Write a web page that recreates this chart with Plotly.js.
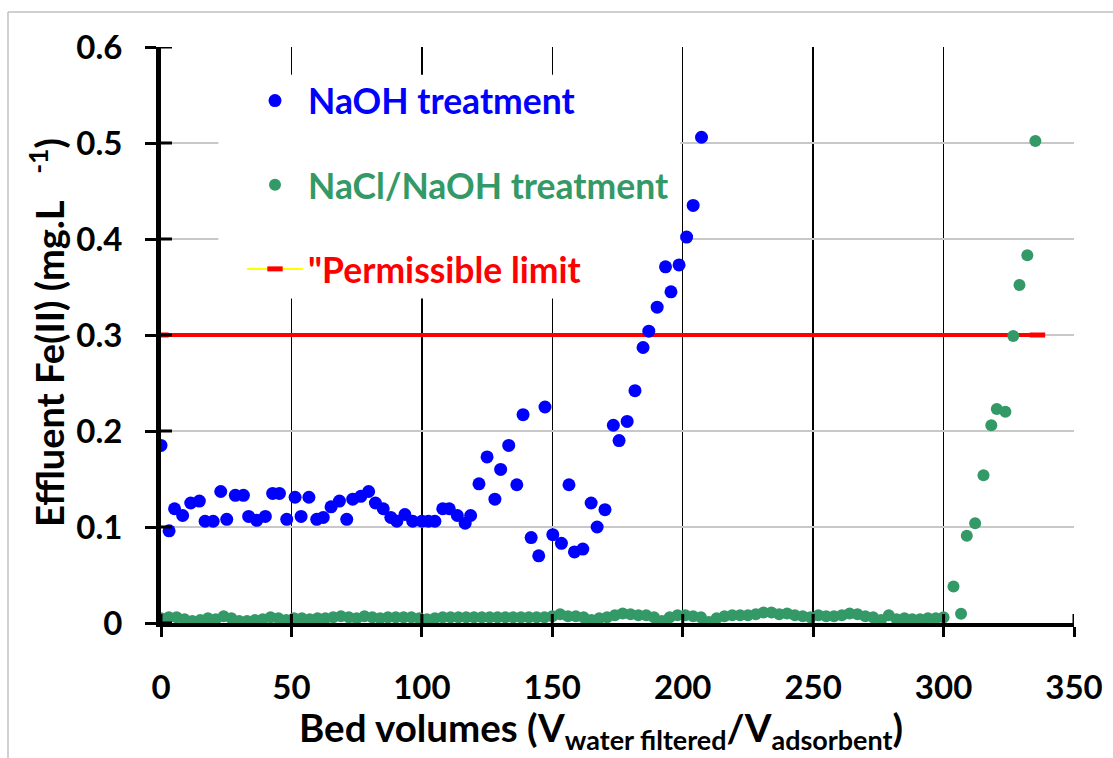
<!DOCTYPE html>
<html>
<head>
<meta charset="utf-8">
<script src="https://cdn.plot.ly/plotly-3.0.1.min.js"></script>
<style>
  html, body { margin: 0; padding: 0; background: #ffffff; }
  #chart { width: 1113px; height: 758px; }
</style>
</head>
<body>
<div id="chart"></div>
<script>
// ---------- data ----------
const bedNaOH = [0, 3.1, 5.2, 8.3, 11.4, 14.7, 16.9, 20, 22.9, 25.2, 28.5, 31.6, 33.6, 36.7, 40, 42.8, 45.4, 48.2,
  51.4, 53.7, 56.7, 59.7, 62.2, 65.2, 68.4, 71.2, 73.5, 76.6, 79.6, 82.2, 85.2, 88.1, 90.4, 93.5, 96.5, 100,
  102.5, 105, 108, 110.5, 113.6, 116.6, 118.7, 121.9, 125, 128, 130.2, 133.3, 136.4, 138.8, 141.9, 144.8,
  147.2, 150.2, 153.5, 156.4, 158.5, 161.7, 164.9, 167.2, 170.2, 173.4, 175.6, 178.7, 181.7, 184.8, 187,
  190.2, 193.4, 195.5, 198.6, 201.5, 204, 207.2];
const feNaOH = [0.185, 0.096, 0.119, 0.112, 0.125, 0.127, 0.106, 0.106, 0.137, 0.108, 0.133, 0.133, 0.111, 0.107,
  0.111, 0.135, 0.135, 0.108, 0.131, 0.111, 0.131, 0.108, 0.110, 0.121, 0.127, 0.108, 0.129, 0.132, 0.137,
  0.125, 0.119, 0.110, 0.106, 0.113, 0.106, 0.106, 0.106, 0.106, 0.119, 0.119, 0.112, 0.104, 0.112, 0.145,
  0.173, 0.129, 0.160, 0.185, 0.144, 0.217, 0.089, 0.070, 0.225, 0.092, 0.083, 0.144, 0.074, 0.077, 0.125,
  0.100, 0.118, 0.206, 0.190, 0.210, 0.242, 0.287, 0.304, 0.329, 0.371, 0.345, 0.373, 0.402, 0.435, 0.506];

const bedNaCl = [0, 3, 6, 9, 12, 15, 18, 21, 24, 27, 30, 33, 36, 39, 42, 45, 48, 51, 54, 57, 60, 63, 66, 69, 72,
  75, 78, 81, 84, 87, 90, 93, 96, 99, 102, 105, 108, 111, 114, 117, 120, 123, 126, 129, 132, 135, 138, 141,
  144, 147, 150, 153, 156, 159, 162, 165, 168, 171, 174, 177, 180, 183, 186, 189, 192, 195, 198, 201, 204,
  207, 210, 213, 216, 219, 222, 225, 228, 231, 234, 237, 240, 243, 246, 249, 252, 255, 258, 261, 264, 267,
  270, 273, 276, 279, 282, 285, 288, 291, 294, 297, 300,
  303.8, 306.7, 308.9, 312.1, 315.3, 318.3, 320.4, 323.7, 326.7, 329.1, 332.1, 335.2];
const feNaCl = [0.005, 0.006, 0.006, 0.004, 0.002, 0.003, 0.005, 0.004, 0.007, 0.005, 0.002, 0.002, 0.003, 0.004,
  0.006, 0.005, 0.003, 0.005, 0.005, 0.004, 0.005, 0.005, 0.006, 0.007, 0.006, 0.005, 0.007, 0.006, 0.005,
  0.006, 0.006, 0.006, 0.006, 0.005, 0.004, 0.005, 0.006, 0.006, 0.006, 0.006, 0.006, 0.006, 0.006, 0.006,
  0.006, 0.006, 0.006, 0.006, 0.006, 0.006, 0.007, 0.009, 0.007, 0.007, 0.006, 0.003, 0.005, 0.006, 0.008,
  0.010, 0.009, 0.008, 0.008, 0.006, 0.002, 0.006, 0.008, 0.008, 0.007, 0.006, 0.001, 0.005, 0.007, 0.008,
  0.008, 0.008, 0.009, 0.011, 0.011, 0.009, 0.010, 0.008, 0.007, 0.006, 0.008, 0.007, 0.007, 0.008, 0.010,
  0.009, 0.007, 0.006, 0.003, 0.008, 0.004, 0.005, 0.004, 0.004, 0.005, 0.005, 0.006,
  0.038, 0.0096, 0.091, 0.104, 0.154, 0.206, 0.223, 0.220, 0.299, 0.352, 0.383, 0.502];

const limitBed = [0, 336];
const limitFe = [0.3, 0.3];

const xTicks = [0, 50, 100, 150, 200, 250, 300, 350];
const yTicks = [0, 0.1, 0.2, 0.3, 0.4, 0.5, 0.6];
const yTickText = ['0', '0.1', '0.2', '0.3', '0.4', '0.5', '0.6'];

const seriesNames = ['NaOH treatment', 'NaCl/NaOH treatment', '"Permissible limit'];
const xTitle = 'Bed volumes (V<sub>water filtered</sub>/V<sub>adsorbent</sub>)';
const yTitle = 'Effluent Fe(II) (mg.L   <sup>-1</sup>)';

// ---------- layout helpers ----------
const W = 1113, H = 758;
const M = { l: 161, r: 39, t: 47, b: 135 };
const PW = W - M.l - M.r, PH = H - M.t - M.b;
const px2x = p => (p - M.l) / PW;           // pixel -> paper x
const px2y = p => (H - M.b - p) / PH;       // pixel -> paper y

const FONT = 'Lato, "Open Sans", sans-serif';
const BLUE = '#0000ff', GREEN = '#339966', RED = '#ff0000', YELLOW = '#ffff00';

const traces = [
  {
    x: limitBed, y: limitFe, type: 'scatter', mode: 'lines+markers',
    name: '<span style="color:' + RED + '">' + seriesNames[2] + '</span>',
    line: { color: YELLOW, width: 2 },
    marker: { symbol: 'line-ew-open', size: 11, color: RED, line: { color: RED, width: 5 } },
    legendgroup: 'c', legendrank: 3, hoverinfo: 'skip'
  },
  {
    x: limitBed, y: limitFe, type: 'scatter', mode: 'lines',
    line: { color: RED, width: 4 }, showlegend: false, hoverinfo: 'skip'
  },
  {
    x: bedNaOH, y: feNaOH, type: 'scatter', mode: 'markers',
    name: '<span style="color:' + BLUE + '">' + seriesNames[0] + '</span>',
    marker: { color: BLUE, size: 13 },
    legendgroup: 'a', legendrank: 1
  },
  {
    x: bedNaCl, y: feNaCl, type: 'scatter', mode: 'markers',
    name: '<span style="color:' + GREEN + '">' + seriesNames[1] + '</span>',
    marker: { color: GREEN, size: 12 },
    legendgroup: 'b', legendrank: 2
  }
];

const shapes = [];
// white legend backdrop (covers gridlines only, drawn below the traces)
shapes.push({ type: 'rect', layer: 'between', xref: 'x', yref: 'y', x0: 22, x1: 199, y0: 0.338, y1: 0.571,
  fillcolor: '#ffffff', line: { width: 0 } });
// inner halves of the crossing ticks
yTicks.forEach(v => shapes.push({ type: 'line', layer: 'above', xref: 'x', yref: 'y', xsizemode: 'pixel', xanchor: 0,
  x0: 0, x1: 11, y0: v, y1: v, line: { color: '#000', width: 3 } }));
xTicks.forEach(v => shapes.push({ type: 'line', layer: 'above', xref: 'x', yref: 'y', ysizemode: 'pixel', yanchor: 0,
  y0: 0, y1: 9, x0: v, x1: v, line: { color: '#000', width: 3 } }));
// outer chart frame (left and top edges)
shapes.push({ type: 'line', xref: 'paper', yref: 'paper', x0: px2x(8), x1: px2x(8), y0: px2y(12), y1: px2y(H + 5),
  line: { color: '#c0c0c0', width: 1.5 } });
shapes.push({ type: 'line', xref: 'paper', yref: 'paper', x0: px2x(8), x1: px2x(W + 5), y0: px2y(12), y1: px2y(12),
  line: { color: '#c0c0c0', width: 1.5 } });

const layout = {
  width: W, height: H,
  margin: M,
  paper_bgcolor: '#ffffff', plot_bgcolor: '#ffffff',
  font: { family: FONT, color: '#000' },
  showlegend: true,
  legend: {
    x: px2x(242), y: px2y(71), xanchor: 'left', yanchor: 'top',
    bgcolor: 'rgba(0,0,0,0)', borderwidth: 0,
    font: { family: FONT, size: 35.5, weight: 700 },
    tracegroupgap: 35, itemwidth: 56, traceorder: 'grouped'
  },
  xaxis: {
    range: [0, 350], tickvals: xTicks, ticktext: xTicks.map(String),
    showgrid: true, gridcolor: '#000000', gridwidth: 1.5,
    zeroline: false, showline: true, linecolor: '#000', linewidth: 4,
    ticks: 'outside', ticklen: 10, tickwidth: 3, tickcolor: '#000',
    ticklabelstandoff: 22,
    tickfont: { family: FONT, size: 33, weight: 700, color: '#000' }
  },
  yaxis: {
    range: [0, 0.6], tickvals: yTicks, ticktext: yTickText,
    showgrid: true, gridcolor: '#c8c8c8', gridwidth: 2,
    zeroline: false, showline: true, linecolor: '#000', linewidth: 5,
    ticks: 'outside', ticklen: 11, tickwidth: 3, tickcolor: '#000',
    ticklabelstandoff: 16,
    tickfont: { family: FONT, size: 33, weight: 700, color: '#000' }
  },
  shapes: shapes,
  annotations: [
    { text: xTitle, xref: 'paper', yref: 'paper', x: px2x(601), y: px2y(730), xanchor: 'center', yanchor: 'middle',
      showarrow: false, font: { family: FONT, size: 38.5, weight: 700, color: '#000' } },
    { text: yTitle, xref: 'paper', yref: 'paper', x: px2x(47), y: px2y(333), xanchor: 'center', yanchor: 'middle',
      textangle: -90, showarrow: false, font: { family: FONT, size: 38, weight: 700, color: '#000' } }
  ]
};

Plotly.newPlot('chart', traces, layout, { displayModeBar: false, staticPlot: true });
</script>
</body>
</html>
